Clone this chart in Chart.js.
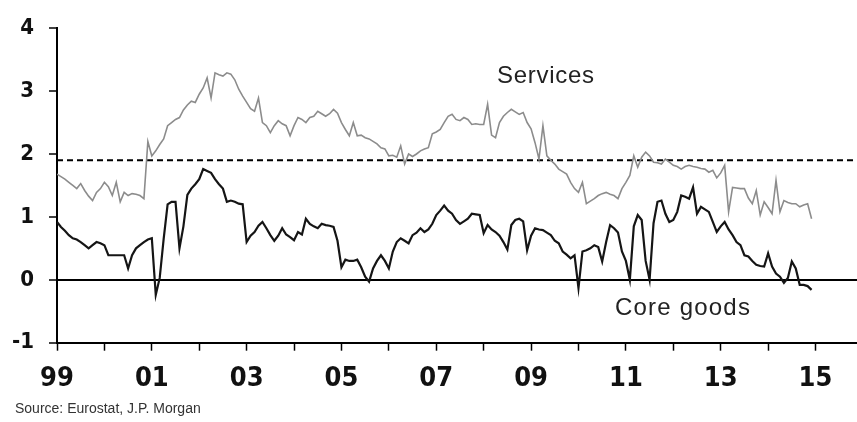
<!DOCTYPE html>
<html>
<head>
<meta charset="utf-8">
<script src="https://cdn.jsdelivr.net/npm/chart.js@4.4.0/dist/chart.umd.min.js"></script>
<style>
  html, body { margin: 0; padding: 0; background: #fff; }
  #wrap { position: relative; width: 857px; height: 422px; }
  .note { position: absolute; font-family: 'Liberation Sans', Arial, sans-serif; color: #222; line-height: 1; white-space: nowrap; }
</style>
</head>
<body>
<div id="wrap">
  <canvas id="c" width="857" height="422"></canvas>
  <div class="note" style="left:497px;top:63px;font-size:24px;letter-spacing:0.7px">Services</div>
  <div class="note" style="left:615px;top:295px;font-size:24px;letter-spacing:1.2px">Core goods</div>
  <div class="note" style="left:15px;top:401px;font-size:14px;color:#333">Source: Eurostat, J.P. Morgan</div>
</div>
<script>
// 月次データ 1999年1月〜2014年12月（前年比 %）
const yearLabels = ['99', '', '01', '', '03', '', '05', '', '07', '', '09', '', '11', '', '13', '', '15'];
const targetLevel = 1.9;

const services = [
  1.68, 1.64, 1.60, 1.55, 1.50, 1.45, 1.53, 1.42, 1.33, 1.26, 1.39, 1.45, // 1999
  1.55, 1.48, 1.34, 1.55, 1.24, 1.39, 1.34, 1.37, 1.36, 1.34, 1.29, 2.20, // 2000
  1.97, 2.05, 2.15, 2.24, 2.45, 2.50, 2.55, 2.58, 2.70, 2.78, 2.84, 2.82, // 2001
  2.95, 3.05, 3.21, 2.89, 3.29, 3.26, 3.24, 3.29, 3.27, 3.18, 3.03, 2.92, // 2002
  2.82, 2.72, 2.68, 2.89, 2.50, 2.45, 2.34, 2.45, 2.53, 2.48, 2.45, 2.29, // 2003
  2.45, 2.58, 2.55, 2.50, 2.58, 2.60, 2.68, 2.64, 2.60, 2.64, 2.71, 2.65, // 2004
  2.50, 2.39, 2.29, 2.50, 2.29, 2.30, 2.26, 2.24, 2.20, 2.16, 2.10, 2.08, // 2005
  1.97, 1.98, 1.95, 2.13, 1.84, 2.00, 1.96, 2.00, 2.05, 2.08, 2.10, 2.32, // 2006
  2.35, 2.39, 2.50, 2.60, 2.63, 2.55, 2.53, 2.58, 2.55, 2.47, 2.48, 2.47, // 2007
  2.47, 2.79, 2.30, 2.26, 2.50, 2.60, 2.66, 2.71, 2.67, 2.63, 2.66, 2.50, // 2008
  2.40, 2.18, 1.92, 2.45, 1.97, 1.90, 1.84, 1.76, 1.72, 1.68, 1.55, 1.45, // 2009
  1.39, 1.55, 1.21, 1.25, 1.29, 1.34, 1.37, 1.39, 1.36, 1.34, 1.29, 1.45, // 2010
  1.55, 1.66, 1.97, 1.79, 1.95, 2.03, 1.97, 1.87, 1.86, 1.84, 1.92, 1.87, // 2011
  1.82, 1.80, 1.76, 1.80, 1.82, 1.80, 1.79, 1.77, 1.76, 1.71, 1.74, 1.62, // 2012
  1.70, 1.82, 1.08, 1.47, 1.46, 1.45, 1.45, 1.30, 1.21, 1.42, 1.03, 1.24, // 2013
  1.15, 1.05, 1.58, 1.08, 1.26, 1.23, 1.21, 1.21, 1.16, 1.19, 1.21, 0.97  // 2014
];

const coreGoods = [
  0.92, 0.84, 0.78, 0.71, 0.66, 0.64, 0.60, 0.55, 0.50, 0.55, 0.60, 0.58, // 1999
  0.55, 0.39, 0.39, 0.39, 0.39, 0.39, 0.18, 0.39, 0.50, 0.55, 0.60, 0.64, // 2000
  0.66, -0.24, 0.03, 0.65, 1.20, 1.24, 1.24, 0.50, 0.85, 1.35, 1.45, 1.52, // 2001
  1.60, 1.76, 1.73, 1.70, 1.60, 1.52, 1.45, 1.24, 1.26, 1.24, 1.21, 1.20, // 2002
  0.60, 0.70, 0.76, 0.86, 0.92, 0.82, 0.71, 0.62, 0.70, 0.82, 0.72, 0.68, // 2003
  0.63, 0.76, 0.72, 0.97, 0.89, 0.85, 0.82, 0.89, 0.87, 0.86, 0.84, 0.62, // 2004
  0.20, 0.32, 0.30, 0.30, 0.32, 0.20, 0.05, -0.03, 0.18, 0.30, 0.39, 0.30, // 2005
  0.18, 0.45, 0.60, 0.66, 0.62, 0.58, 0.71, 0.75, 0.82, 0.76, 0.80, 0.89, // 2006
  1.03, 1.10, 1.18, 1.10, 1.05, 0.95, 0.89, 0.93, 0.97, 1.05, 1.04, 1.03, // 2007
  0.74, 0.87, 0.80, 0.76, 0.70, 0.60, 0.48, 0.87, 0.95, 0.97, 0.93, 0.47, // 2008
  0.70, 0.82, 0.80, 0.79, 0.75, 0.71, 0.62, 0.58, 0.45, 0.40, 0.34, 0.39, // 2009
  -0.13, 0.45, 0.47, 0.50, 0.55, 0.52, 0.29, 0.60, 0.87, 0.82, 0.75, 0.45, // 2010
  0.30, 0.00, 0.85, 1.03, 0.95, 0.30, 0.00, 0.90, 1.24, 1.26, 1.05, 0.92, // 2011
  0.95, 1.08, 1.34, 1.32, 1.29, 1.47, 1.05, 1.16, 1.12, 1.08, 0.92, 0.76, // 2012
  0.85, 0.92, 0.80, 0.71, 0.60, 0.55, 0.39, 0.37, 0.30, 0.24, 0.22, 0.21, // 2013
  0.42, 0.21, 0.10, 0.05, -0.05, 0.03, 0.29, 0.18, -0.08, -0.08, -0.10, -0.16 // 2014
];

const narrow = "'Liberation Sans Narrow', 'Arial Narrow', 'DejaVu Sans Condensed', sans-serif";
const toPoints = arr => arr.map((v, i) => ({ x: i, y: v }));

// 目標水準の破線
const targetLine = {
  id: 'targetLine',
  beforeDatasetsDraw(chart) {
    const { ctx, chartArea, scales } = chart;
    const py = scales.y.getPixelForValue(targetLevel);
    ctx.save();
    ctx.strokeStyle = '#000';
    ctx.lineWidth = 2;
    ctx.setLineDash([6, 4]);
    ctx.beginPath();
    ctx.moveTo(chartArea.left, py);
    ctx.lineTo(chartArea.right, py);
    ctx.stroke();
    ctx.restore();
  }
};

new Chart(document.getElementById('c'), {
  type: 'line',
  data: {
    datasets: [
      { label: 'Services', data: toPoints(services), borderColor: '#8c8c8c', borderWidth: 1.6, pointRadius: 0, tension: 0 },
      { label: 'Core goods', data: toPoints(coreGoods), borderColor: '#151515', borderWidth: 2.2, pointRadius: 0, tension: 0 }
    ]
  },
  options: {
    responsive: false,
    animation: false,
    devicePixelRatio: 1,
    layout: { padding: { top: 25, right: 0, bottom: 0, left: 0 } },
    plugins: { legend: { display: false }, tooltip: { enabled: false } },
    scales: {
      x: {
        type: 'linear', min: 0, max: 202.5,
        border: { color: '#000', width: 2 },
        grid: { drawOnChartArea: false, tickLength: 8, tickColor: '#000', tickWidth: 1.5 },
        ticks: {
          stepSize: 12, includeBounds: false, autoSkip: false, maxRotation: 0, padding: 12,
          color: '#111', font: { family: narrow, size: 27, weight: 'bold' },
          callback: v => yearLabels[v / 12] ?? ''
        },
        afterFit: s => { s.height = 79.3; }
      },
      y: {
        min: -1, max: 4,
        border: { color: '#000', width: 2 },
        grid: {
          color: c => (c.tick && c.tick.value === 0 ? '#000' : 'rgba(0,0,0,0)'),
          lineWidth: 2, tickLength: 8, tickColor: '#000', tickWidth: 1.5
        },
        ticks: { stepSize: 1, padding: 15, color: '#111', font: { family: narrow, size: 22, weight: 'bold' } },
        afterFit: s => { s.width = 57; }
      }
    }
  },
  plugins: [targetLine]
});
</script>
</body>
</html>
